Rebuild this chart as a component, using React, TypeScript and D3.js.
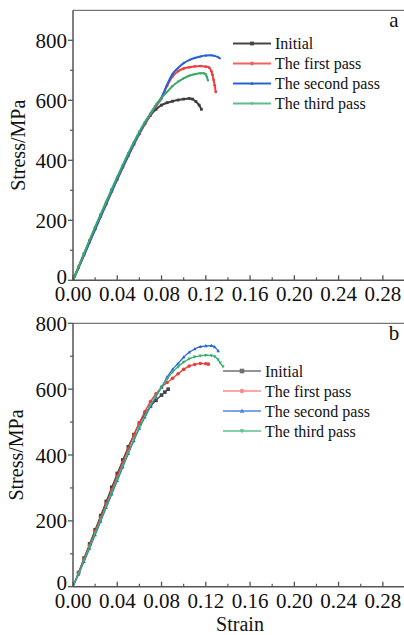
import { scaleLinear, line, curveMonotoneX, range } from 'd3';

const W = 404;
const H = 635;
const FONT = '"Liberation Serif", "Times New Roman", serif';

const seriesNames = ['Initial', 'The first pass', 'The second pass', 'The third pass'];
const xTicks = [0, 0.04, 0.08, 0.12, 0.16, 0.2, 0.24, 0.28];
const yTicks = [0, 200, 400, 600, 800];

// panel a: [strain, stress MPa]
const initialA = [[0, 0], [0.005, 44], [0.01, 88], [0.015, 131], [0.02, 174], [0.025, 216], [0.03, 258], [0.035, 300], [0.04, 340], [0.045, 380], [0.05, 418], [0.055, 455], [0.06, 490], [0.065, 522], [0.07, 550], [0.075, 570], [0.08, 584], [0.085, 592], [0.09, 597], [0.095, 601], [0.1, 604], [0.105, 606], [0.108, 604], [0.111, 596], [0.114, 584], [0.116, 570]];
const firstA = [[0, 0], [0.005, 42], [0.01, 85], [0.015, 127], [0.02, 170], [0.025, 212], [0.03, 254], [0.035, 296], [0.04, 336], [0.045, 376], [0.05, 415], [0.055, 452], [0.06, 488], [0.065, 521], [0.07, 552], [0.075, 580], [0.08, 606], [0.085, 648], [0.09, 680], [0.095, 697], [0.1, 706], [0.105, 710], [0.11, 713], [0.115, 714], [0.12, 712], [0.123, 709], [0.125, 697], [0.126, 685], [0.127, 668], [0.128, 650], [0.129, 628]];
const secondA = [[0, 0], [0.005, 42], [0.01, 84], [0.015, 127], [0.02, 170], [0.025, 212], [0.03, 254], [0.035, 296], [0.04, 337], [0.045, 377], [0.05, 416], [0.055, 454], [0.06, 490], [0.065, 524], [0.07, 555], [0.075, 584], [0.08, 610], [0.085, 652], [0.09, 688], [0.095, 708], [0.1, 724], [0.105, 734], [0.11, 741], [0.115, 746], [0.12, 749], [0.125, 750], [0.128, 748], [0.131, 744], [0.1327, 740]];
const thirdA = [[0, 0], [0.005, 45], [0.01, 90], [0.015, 134], [0.02, 178], [0.025, 220], [0.03, 262], [0.035, 304], [0.04, 345], [0.045, 385], [0.05, 424], [0.055, 461], [0.06, 496], [0.065, 528], [0.07, 556], [0.075, 585], [0.08, 608], [0.085, 628], [0.09, 648], [0.095, 662], [0.1, 673], [0.105, 682], [0.11, 687], [0.115, 690], [0.118, 690], [0.12, 686], [0.121, 678], [0.122, 665]];

// panel b
const initialB = [[0, 0], [0.005, 43], [0.01, 87], [0.015, 130], [0.02, 173], [0.025, 216], [0.03, 259], [0.035, 302], [0.04, 344], [0.045, 385], [0.05, 425], [0.055, 462], [0.06, 497], [0.065, 525], [0.07, 548], [0.075, 566], [0.08, 582], [0.083, 591], [0.086, 600]];
const firstB = [[0, 0], [0.005, 42], [0.01, 84], [0.015, 126], [0.02, 168], [0.025, 210], [0.03, 252], [0.035, 294], [0.04, 336], [0.045, 378], [0.05, 419], [0.055, 460], [0.06, 498], [0.065, 532], [0.07, 562], [0.075, 586], [0.08, 605], [0.085, 620], [0.09, 633], [0.095, 647], [0.1, 660], [0.105, 670], [0.11, 675], [0.115, 678], [0.12, 677], [0.1223, 676]];
const secondB = [[0, 0], [0.005, 37], [0.01, 76], [0.015, 116], [0.02, 157], [0.025, 198], [0.03, 240], [0.035, 281], [0.04, 322], [0.045, 363], [0.05, 404], [0.055, 443], [0.06, 481], [0.065, 515], [0.07, 547], [0.075, 577], [0.08, 606], [0.085, 636], [0.09, 660], [0.095, 678], [0.1, 697], [0.105, 712], [0.11, 722], [0.115, 729], [0.12, 731], [0.125, 732], [0.128, 728], [0.1312, 716]];
const thirdB = [[0, 0], [0.005, 40], [0.01, 80], [0.015, 121], [0.02, 162], [0.025, 203], [0.03, 245], [0.035, 286], [0.04, 327], [0.045, 368], [0.05, 408], [0.055, 447], [0.06, 485], [0.065, 519], [0.07, 551], [0.075, 580], [0.08, 607], [0.085, 631], [0.09, 652], [0.095, 668], [0.1, 682], [0.105, 692], [0.11, 698], [0.115, 701], [0.12, 703], [0.125, 702], [0.128, 699], [0.131, 690], [0.133, 680], [0.1355, 669]];

const colorsA = ['#3d3d3d', '#ee4040', '#2462d6', '#3aa868'];
const legendColorsA = ['#444444', '#f06262', '#2a64d0', '#5cbf8a'];
const colorsB = ['#444444', '#ea3c3c', '#2a66dd', '#3ab070'];
const legendColorsB = ['#707070', '#ff8a8a', '#4f84dd', '#5cc08c'];
const shapes = ['square', 'circle', 'up', 'down'];

const X0 = 73;
const X1 = 405;

function Marker({ shape, x, y, color, s }: { shape: string; x: number; y: number; color: string; s: number }) {
  if (shape === 'square') return <rect x={x - s / 2} y={y - s / 2} width={s} height={s} fill={color} />;
  if (shape === 'circle') return <circle cx={x} cy={y} r={s / 2} fill={color} />;
  const h = s * 0.9;
  const pts =
    shape === 'up'
      ? `${x},${y - h * 0.6} ${x - s / 2},${y + h * 0.4} ${x + s / 2},${y + h * 0.4}`
      : `${x},${y + h * 0.6} ${x - s / 2},${y - h * 0.4} ${x + s / 2},${y - h * 0.4}`;
  return <polygon points={pts} fill={color} />;
}

function Panel({ series, colors, legendColors, yMax, top, bottom, tag, legendX, legendY, lineW, markS, ylabelX, xTitle }: any) {
  const x = scaleLinear().domain([0, 0.3]).range([X0, X1]);
  const y = scaleLinear().domain([0, yMax]).range([bottom, top]);
  const gen = line<number[]>()
    .x(d => x(d[0]))
    .y(d => y(d[1]))
    .curve(curveMonotoneX);
  const axisColor = '#555';
  const minorX = range(0.02, 0.3, 0.04);
  const minorY = range(100, yMax, 200);

  return (
    <g>
      <line x1={X0} x2={X1} y1={top} y2={top} stroke="#777" strokeWidth={1.3} />
      <line x1={X1} x2={X1} y1={top} y2={bottom} stroke="#777" strokeWidth={1.3} />
      {series.map((d: number[][], i: number) => (
        <g key={i}>
          <path d={gen(d) || ''} fill="none" stroke={colors[i]} strokeWidth={lineW} />
          {d.slice(1).map((p, j) => (
            <Marker key={j} shape={shapes[i]} x={x(p[0])} y={y(p[1])} color={colors[i]} s={markS} />
          ))}
        </g>
      ))}
      <line x1={X0} x2={X0} y1={top} y2={bottom} stroke={axisColor} strokeWidth={1.5} />
      <line x1={X0} x2={X1} y1={bottom} y2={bottom} stroke={axisColor} strokeWidth={1.5} />
      {yTicks.map(t => (
        <g key={t}>
          <line x1={X0 - 5} x2={X0} y1={y(t)} y2={y(t)} stroke={axisColor} strokeWidth={1.3} />
          <text x={67} y={t === 0 ? y(t) - 4 : y(t)} dy="0.36em" textAnchor="end" fontSize={21} fontFamily={FONT} fill="#111">
            {t}
          </text>
        </g>
      ))}
      {minorY.map(t => (
        <line key={t} x1={X0 - 3} x2={X0} y1={y(t)} y2={y(t)} stroke={axisColor} strokeWidth={1.2} />
      ))}
      {xTicks.map(t => (
        <g key={t}>
          <line x1={x(t)} x2={x(t)} y1={bottom} y2={bottom - 5} stroke={axisColor} strokeWidth={1.3} />
          <text x={x(t)} y={bottom + 21} textAnchor="middle" fontSize={21} fontFamily={FONT} fill="#111">
            {t.toFixed(2)}
          </text>
        </g>
      ))}
      {minorX.map(t => (
        <line key={t} x1={x(t)} x2={x(t)} y1={bottom} y2={bottom - 3} stroke={axisColor} strokeWidth={1.2} />
      ))}
      <text
        transform={`translate(${ylabelX},${(top + bottom) / 2}) rotate(-90)`}
        textAnchor="middle"
        dy="0.35em"
        fontSize={20}
        fontFamily={FONT}
        fill="#111"
      >
        Stress/MPa
      </text>
      <text x={394} y={top + 17} textAnchor="middle" fontSize={21} fontFamily={FONT} fill="#111">
        {tag}
      </text>
      {seriesNames.map((name, i) => {
        const ly = legendY + i * 20;
        return (
          <g key={name}>
            <line x1={legendX} x2={legendX + 38} y1={ly} y2={ly} stroke={legendColors[i]} strokeWidth={lineW} />
            <Marker shape={shapes[i]} x={legendX + 19} y={ly} color={legendColors[i]} s={markS + 1} />
            <text x={legendX + 42} y={ly} dy="0.35em" fontSize={16} fontFamily={FONT} fill="#111">
              {name}
            </text>
          </g>
        );
      })}
      {xTitle && (
        <text x={240} y={631} textAnchor="middle" fontSize={20} fontFamily={FONT} fill="#111">
          {xTitle}
        </text>
      )}
    </g>
  );
}

export default function App() {
  return (
    <svg width={W} height={H} style={{ position: 'absolute', left: 0, top: 0, background: '#fff' }}>
      <Panel
        series={[initialA, firstA, secondA, thirdA]}
        colors={colorsA}
        legendColors={legendColorsA}
        yMax={900}
        top={10.3}
        bottom={280.3}
        tag="a"
        legendX={233}
        legendY={43.5}
        lineW={2}
        markS={2.8}
        ylabelX={18}
      />
      <Panel
        series={[initialB, firstB, secondB, thirdB]}
        colors={colorsB}
        legendColors={legendColorsB}
        yMax={800}
        top={323.3}
        bottom={586.7}
        tag="b"
        legendX={223}
        legendY={371}
        lineW={1.3}
        markS={3.6}
        ylabelX={16}
        xTitle="Strain"
      />
    </svg>
  );
}
